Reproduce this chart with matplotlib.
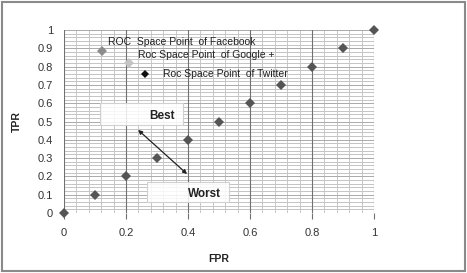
import matplotlib
matplotlib.use("Agg")
import matplotlib.pyplot as plt
import numpy as np
from matplotlib.patches import Rectangle

# Data
twitter_fpr = [0, 0.1, 0.2, 0.3, 0.4, 0.5, 0.6, 0.7, 0.8, 0.9, 1.0]
twitter_tpr = [0, 0.1, 0.2, 0.3, 0.4, 0.5, 0.6, 0.7, 0.8, 0.9, 1.0]
facebook_fpr = [0.123]
facebook_tpr = [0.887]
google_fpr = [0.21]
google_tpr = [0.82]
xticks = [0, 0.2, 0.4, 0.6, 0.8, 1]
yticks = [0, 0.1, 0.2, 0.3, 0.4, 0.5, 0.6, 0.7, 0.8, 0.9, 1]
xtick_labels = ["0", "0.2", "0.4", "0.6", "0.8", "1"]
ytick_labels = ["0", "0.1", "0.2", "0.3", "0.4", "0.5", "0.6", "0.7", "0.8", "0.9", "1"]
label_texts = ["ROC  Space Point  of Facebook", "Roc Space Point  of Google +", "Roc Space Point  of Twitter"]

plt.rcParams['font.family'] = ['Liberation Sans', 'DejaVu Sans']

fig = plt.figure(figsize=(4.67, 2.73), dpi=100)
ax = fig.add_axes([64/467, 60/273, 310/467, 183/273])
ax.set_xlim(0, 1)
ax.set_ylim(0, 1)

# grid
for x in np.arange(0, 1.0001, 0.04):
    ax.axvline(x, color="#c8c8c8", lw=0.7, zorder=0)
for y in np.arange(0, 1.0001, 0.02):
    ax.axhline(y, color="#c4c4c4", lw=0.7, zorder=0)
for y in yticks:
    ax.axhline(y, color="#acacac", lw=0.7, zorder=0)
for x in xticks:
    ax.axvline(x, color="#707070", lw=0.8, zorder=0)

for s in ax.spines.values():
    s.set_visible(False)

ax.set_xticks(xticks)
ax.set_xticklabels(xtick_labels)
ax.set_yticks(yticks)
ax.set_yticklabels(ytick_labels)
ax.tick_params(axis='x', length=4, color="#707070", width=0.8, labelsize=8, labelcolor="#333333", pad=7)
ax.tick_params(axis='y', length=0, labelsize=8, labelcolor="#333333", pad=8)

ax.set_xlabel("FPR", fontsize=7.5, fontweight="bold", color="#222222", labelpad=11)
ax.set_ylabel("TPR", fontsize=7.5, fontweight="bold", color="#222222", labelpad=11)

# points
kw = dict(markersize=5.5, markeredgewidth=0, zorder=5, clip_on=False)
ax.plot(twitter_fpr, twitter_tpr, 'D', color="#555555", **kw)
ax.plot(facebook_fpr, facebook_tpr, 'D', color="#8c8c8c", **kw)
ax.plot(google_fpr, google_tpr, 'D', color="#c4c4c4", **kw)

# labels
ax.text(0.142, 0.935, label_texts[0], fontsize=7.5, color="#222222", va="center", ha="left", zorder=6)
ax.text(0.239, 0.862, label_texts[1], fontsize=7.5, color="#222222", va="center", ha="left", zorder=6)
ax.plot([0.261], [0.762], 'D', color="#111111", markersize=4.5, markeredgewidth=0, zorder=6)
ax.text(0.319, 0.762, label_texts[2], fontsize=7.5, color="#222222", va="center", ha="left", zorder=6)

# Best / Worst boxes
for (x0, y0, w, h) in [(0.116, 0.481, 0.268, 0.119), (0.268, 0.060, 0.264, 0.109)]:
    ax.add_patch(Rectangle((x0, y0), w, h, facecolor="white", alpha=0.85, edgecolor="none", zorder=3))
    ax.add_patch(Rectangle((x0, y0), w, h, facecolor="none", edgecolor="#d0d0d0", lw=0.8, zorder=3))
ax.text(0.316, 0.528, "Best", fontsize=8.5, fontweight="bold", color="#222222", ha="center", va="center", zorder=4)
ax.text(0.452, 0.103, "Worst", fontsize=8.5, fontweight="bold", color="#222222", ha="center", va="center", zorder=4)

ax.annotate("", xy=(0.239, 0.454), xytext=(0.397, 0.213),
            arrowprops=dict(arrowstyle="<|-|>", color="#222222", lw=0.9,
                            mutation_scale=6, shrinkA=0, shrinkB=0), zorder=6)

# figure border
fig.patches.append(Rectangle((2/467, 2/273), 463/467, 269/273, transform=fig.transFigure,
                             facecolor="none", edgecolor="#8a8a8a", lw=1.5))

fig.savefig("out.png", dpi=100)
